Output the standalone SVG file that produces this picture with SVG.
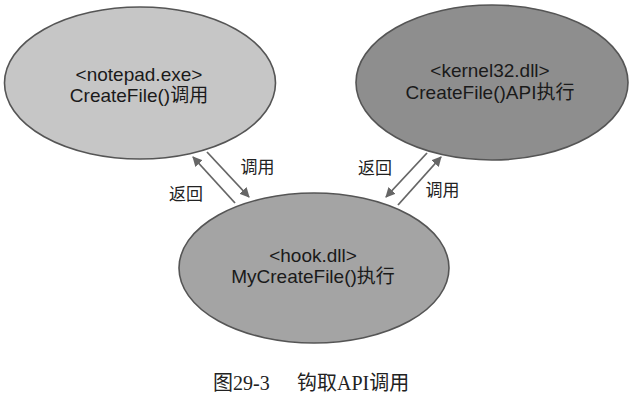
<svg xmlns="http://www.w3.org/2000/svg" width="638" height="404" viewBox="0 0 638 404">
<style>
.node{stroke:#555;stroke-width:1.6}
.nt{font-family:"Liberation Sans","Noto Sans CJK SC",sans-serif;font-size:19px;fill:#1a1a1a;text-anchor:middle}
.lbl{font-family:"Noto Sans CJK SC",sans-serif;font-size:17px;fill:#222;text-anchor:middle}
.cap{font-family:"Liberation Serif","Noto Sans CJK SC",serif;font-size:20px;fill:#222}
.arr{stroke:#666;stroke-width:1.8;fill:none;marker-end:url(#ah)}
</style>
<defs>
<marker id="ah" viewBox="0 0 10 10" refX="9" refY="5" markerWidth="5.5" markerHeight="5.5" orient="auto" markerUnits="strokeWidth">
<path d="M0,0 L10,5 L0,10 z" fill="#666"/>
</marker>
</defs>
<rect width="638" height="404" fill="#fff"/>
<g id="notepad">
<ellipse class="node" cx="140" cy="83" rx="135.5" ry="76" fill="#c6c6c6" stroke="#6a6a6a"/>
<text class="nt" x="139" y="81">&lt;notepad.exe&gt;</text>
<text class="nt" x="139" y="102">CreateFile()调用</text>
</g>
<g id="kernel32">
<ellipse class="node" cx="492" cy="82.5" rx="136" ry="77.5" fill="#8e8e8e"/>
<text class="nt" x="490" y="77">&lt;kernel32.dll&gt;</text>
<text class="nt" x="490" y="99">CreateFile()API执行</text>
</g>
<g id="hook">
<ellipse class="node" cx="314" cy="268" rx="135" ry="75" fill="#a4a4a4"/>
<text class="nt" x="313" y="262">&lt;hook.dll&gt;</text>
<text class="nt" x="313" y="283">MyCreateFile()执行</text>
</g>
<g id="connectors">
<line class="arr" x1="235" y1="203" x2="193" y2="157"/>
<line class="arr" x1="207" y1="152" x2="249" y2="197"/>
<line class="arr" x1="427" y1="153" x2="386" y2="197"/>
<line class="arr" x1="398" y1="205" x2="441" y2="157"/>
<text class="lbl" x="257.5" y="173">调用</text>
<text class="lbl" x="186" y="200">返回</text>
<text class="lbl" x="375" y="174">返回</text>
<text class="lbl" x="442.5" y="196">调用</text>
</g>
<g id="caption">
<text class="cap" x="213" y="390">图29-3</text>
<text class="cap" x="297" y="390">钩取API调用</text>
</g>
</svg>
